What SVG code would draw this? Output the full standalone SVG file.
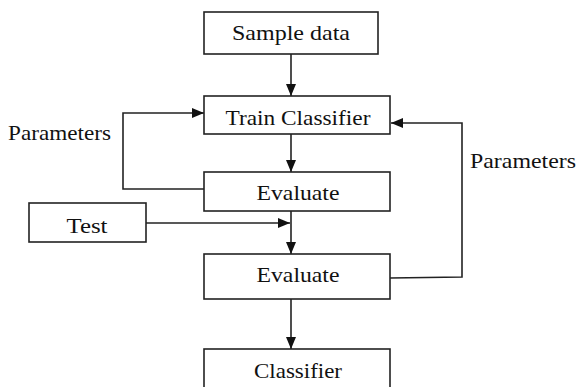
<svg xmlns="http://www.w3.org/2000/svg" width="577" height="387" viewBox="0 0 577 387">
<defs>
<style>
.box{fill:#fff;stroke:#222;stroke-width:1.6}
.lbl{font-family:"Liberation Serif","Times New Roman",serif;font-size:21px;fill:#111;text-anchor:middle}
.con{fill:none;stroke:#222;stroke-width:1.6}
</style>
<marker id="ah" markerWidth="12" markerHeight="10" refX="12" refY="5" orient="auto" markerUnits="userSpaceOnUse">
<path d="M0,0 L12,5 L0,10 Z" fill="#111"/>
</marker>
</defs>
<rect width="577" height="387" fill="#fff"/>
<g id="connectors">
<path class="con" d="M291,54 V96" marker-end="url(#ah)"/>
<path class="con" d="M291,134 V172" marker-end="url(#ah)"/>
<path class="con" d="M204,189 H123 V113 H204" marker-end="url(#ah)"/>
<path class="con" d="M146,223 H290" marker-end="url(#ah)"/>
<path class="con" d="M291,211 V254" marker-end="url(#ah)"/>
<path class="con" d="M390,278 L462,277 V123 H391" marker-end="url(#ah)"/>
<path class="con" d="M291,299 V349" marker-end="url(#ah)"/>
</g>
<g id="sample">
<rect class="box" x="204" y="12" width="174" height="42"/>
<text class="lbl" x="291" y="40" textLength="118" lengthAdjust="spacingAndGlyphs">Sample data</text>
</g>
<g id="train">
<rect class="box" x="204" y="96" width="186" height="38"/>
<text class="lbl" x="298" y="125" textLength="145" lengthAdjust="spacingAndGlyphs">Train Classifier</text>
</g>
<g id="eval1">
<rect class="box" x="204" y="172" width="186" height="39"/>
<text class="lbl" x="298" y="200" textLength="83" lengthAdjust="spacingAndGlyphs">Evaluate</text>
</g>
<g id="test">
<rect class="box" x="29" y="203" width="117" height="39"/>
<text class="lbl" x="87" y="233" textLength="41" lengthAdjust="spacingAndGlyphs">Test</text>
</g>
<g id="eval2">
<rect class="box" x="204" y="254" width="186" height="45"/>
<text class="lbl" x="298" y="282" textLength="83" lengthAdjust="spacingAndGlyphs">Evaluate</text>
</g>
<g id="classifier">
<rect class="box" x="204" y="349" width="186" height="50"/>
<text class="lbl" x="298" y="378" textLength="88" lengthAdjust="spacingAndGlyphs">Classifier</text>
</g>
<g id="labels">
<text class="lbl" x="59.5" y="140" textLength="103" lengthAdjust="spacingAndGlyphs">Parameters</text>
<text class="lbl" x="523" y="168" textLength="106" lengthAdjust="spacingAndGlyphs">Parameters</text>
</g>
</svg>
